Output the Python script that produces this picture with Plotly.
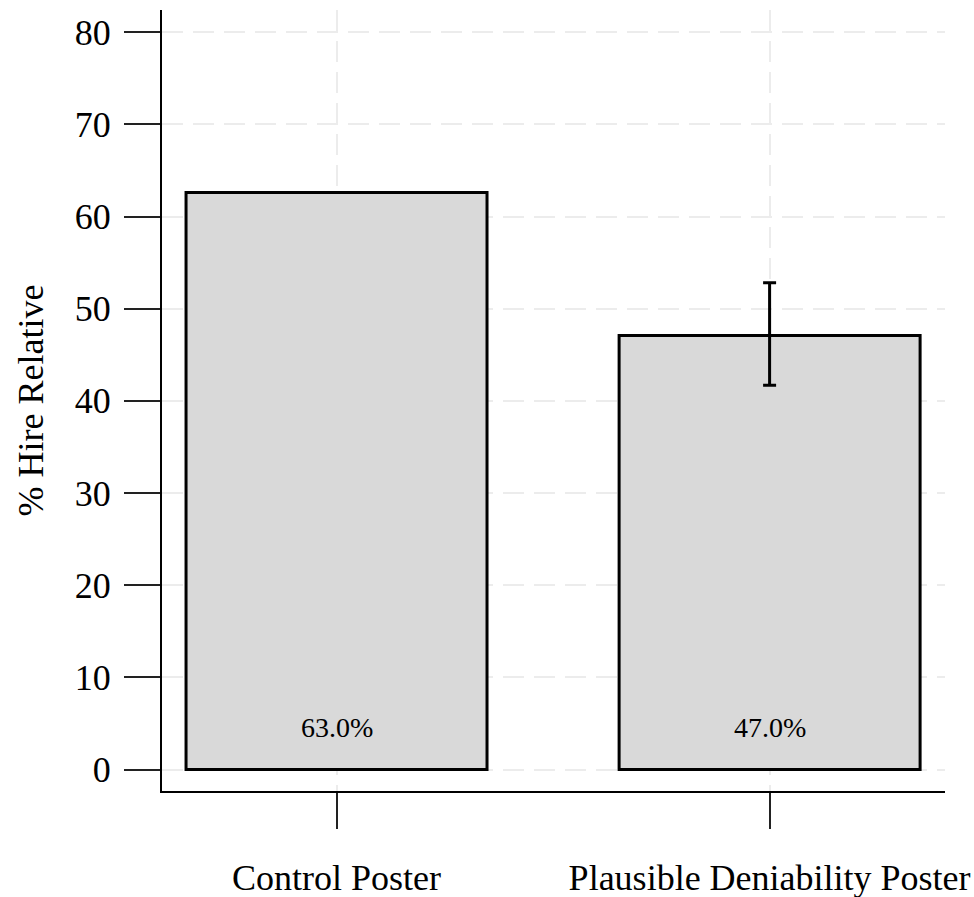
import plotly.graph_objects as go

categories = ["Control Poster", "Plausible Deniability Poster"]
values = [62.6, 47.1]
bar_labels = ["63.0%", "47.0%"]
err_high = [None, 52.8]
err_low = [None, 41.7]
y_ticks = [0, 10, 20, 30, 40, 50, 60, 70, 80]

FONT = "Liberation Serif, Times New Roman, serif"

fig = go.Figure()
fig.add_trace(go.Bar(
    x=[0, 1], y=values, width=0.695,
    marker=dict(color="#d9d9d9", line=dict(color="black", width=3)),
    hoverinfo="skip", showlegend=False,
))

ex, ey, eu, el = [], [], [], []
for i, (v, h, l) in enumerate(zip(values, err_high, err_low)):
    if h is not None:
        ex.append(i); ey.append(v); eu.append(h - v); el.append(v - l)
fig.add_trace(go.Scatter(
    x=ex, y=ey, mode="markers", marker=dict(size=0.1, color="rgba(0,0,0,0)"),
    error_y=dict(type="data", symmetric=False, array=eu, arrayminus=el,
                 color="black", thickness=3, width=6.5),
    showlegend=False, hoverinfo="skip",
))

for i, t in enumerate(bar_labels):
    fig.add_annotation(x=i, y=0, text=t, showarrow=False, yanchor="middle",
                       yshift=42, font=dict(family=FONT, size=28, color="black"))

fig.update_layout(
    width=974, height=897,
    margin=dict(l=162, r=29, t=10, b=106),
    paper_bgcolor="white", plot_bgcolor="white",
    font=dict(family=FONT, size=36, color="black"),
)
fig.update_xaxes(
    range=[-0.403, 1.405], tickmode="array", tickvals=[0, 1], ticktext=categories,
    showline=True, linecolor="black", linewidth=2,
    ticks="outside", ticklen=36, tickwidth=2, tickcolor="#222",
    showgrid=True, gridcolor="#ececec", gridwidth=2, griddash="21px,10px",
    zeroline=False, ticklabelstandoff=18, automargin=False,
    tickfont=dict(family=FONT, size=36, color="black"),
)
fig.update_yaxes(
    range=[-2.32, 82.4], tickmode="array", tickvals=y_ticks,
    showline=True, linecolor="black", linewidth=2,
    ticks="outside", ticklen=36, tickwidth=2, tickcolor="#222",
    showgrid=True, gridcolor="#ececec", gridwidth=2, griddash="21px,10px",
    zeroline=False, ticklabelstandoff=6, automargin=False,
    tickfont=dict(family=FONT, size=36, color="black"),
    title=dict(text="% Hire Relative", font=dict(family=FONT, size=36, color="black"), standoff=20),
)

fig.write_html("out.html", config={"displayModeBar": False},
               post_script="document.body.style.margin='0';document.body.style.overflow='hidden';")
